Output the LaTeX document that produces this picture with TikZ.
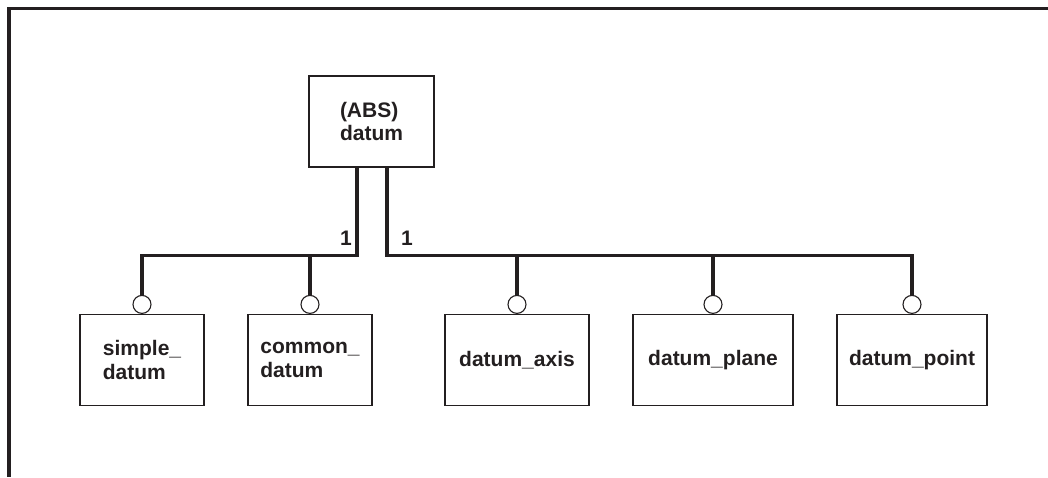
\documentclass[tikz,border=0pt]{standalone}
\usepackage{fontspec}
\setmainfont{Liberation Sans}
\usetikzlibrary{positioning}
\definecolor{ink}{HTML}{231F20}
\tikzset{
  entity/.style={draw=ink, line width=1.1pt, minimum height=91pt, align=left,
    inner sep=2pt, text=ink, font=\fontsize{21}{23.5}\selectfont\bfseries},
  hub/.style={draw=ink, fill=white, line width=1.1pt, circle, minimum size=18pt, inner sep=0pt},
  bus/.style={draw=ink, line width=3.5pt},
  card/.style={text=ink, font=\fontsize{21}{23.5}\selectfont\bfseries, inner sep=0pt, anchor=base}
}
\begin{document}
\begin{tikzpicture}[x=1pt,y=1pt]
\useasboundingbox (0,0) rectangle (1048,477);
% frame
\draw[ink, line width=3.5pt] (1048,468.5) -- (9,468.5) -- (9,0);

% supertype
\node[entity, minimum width=125pt] (abs) at (371.5,355.5) {(ABS)\\datum};

% subtypes
\node[entity, minimum width=124pt] (simple) at (142,117) {simple\_\\datum};
\node[entity, minimum width=124pt] (common) at (310,117) {common\_\\datum};
\node[entity, minimum width=144pt] (axis) at (517,117) {datum\_axis};
\node[entity, minimum width=160pt] (plane) at (713,117) {datum\_plane};
\node[entity, minimum width=150pt] (point) at (912,117) {datum\_point};

\foreach \n in {simple,common,axis,plane,point}
  \node[hub, above=0pt of \n] (\n C) {};

\coordinate (lbus) at (142,221.5);
\coordinate (rbus) at (912,221.5);

\draw[bus] ([xshift=-14.5pt]abs.south) |- (lbus) -- (simpleC);
\draw[bus] ([xshift=15.5pt]abs.south) |- (rbus) -- (pointC);
\draw[bus] (commonC) -- (commonC |- lbus);
\draw[bus] (axisC) -- (axisC |- rbus);
\draw[bus] (planeC) -- (planeC |- rbus);

\node[card] (oneL) at (346,232) {1};
\node[card] (oneR) at (407,232) {1};

\end{tikzpicture}
\end{document}
